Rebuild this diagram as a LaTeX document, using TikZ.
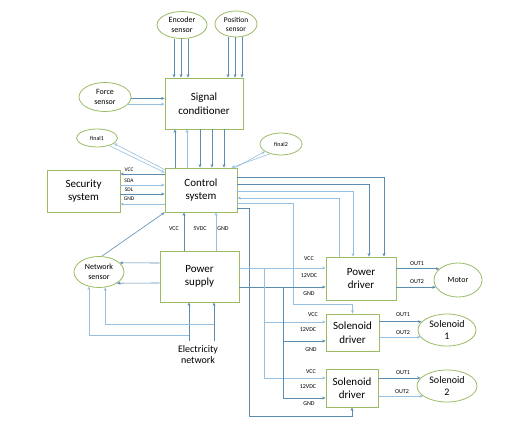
\documentclass[tikz,border=0pt]{standalone}
\usepackage{fontspec}
\setmainfont{Carlito}
\usetikzlibrary{shapes.geometric,arrows.meta}
\definecolor{bord}{RGB}{155,187,100}
\definecolor{dk}{RGB}{92,140,176}
\definecolor{lt}{RGB}{150,192,226}
\begin{document}
\begin{tikzpicture}[x=1pt,y=-1pt,
  box/.style={draw=bord,line width=0.8pt,rectangle,inner sep=0pt,align=center,font=\fontsize{11}{13.5}\selectfont},
  ell/.style={draw=bord,line width=0.8pt,ellipse,inner sep=0pt,align=center,font=\fontsize{8}{9.5}\selectfont},
  arr/.style={draw=dk,line width=0.6pt,-{Stealth[length=3.5pt,width=3pt]}},
  arrL/.style={arr,draw=lt},
  lbl/.style={font=\fontsize{6}{7}\selectfont,inner sep=0pt},
  slbl/.style={font=\fontsize{5.5}{6}\selectfont,inner sep=0pt}]
\fill[white] (0,0) rectangle (530,425);
\useasboundingbox (0,0) rectangle (530,425);

% nodes
\node[ell,minimum width=50pt,minimum height=27pt] (enc) at (182,25) {Encoder\\sensor};
\node[ell,minimum width=42pt,minimum height=26pt,font=\fontsize{7.5}{9}\selectfont] (pos) at (236,24) {Position\\sensor};
\node[box,minimum width=78pt,minimum height=51pt] (sig) at (204,103.5) {Signal\\conditioner};
\node[ell,minimum width=52pt,minimum height=29pt] (force) at (105,97) {Force\\sensor};
\node[box,minimum width=72pt,minimum height=44pt] (ctrl) at (201,190) {Control\\system};
\node[box,minimum width=73pt,minimum height=42pt] (sec) at (83.5,191) {Security\\system};
\node[ell,minimum width=41pt,minimum height=18pt,font=\fontsize{6}{7}\selectfont] (f1) at (97,138) {final1};
\node[ell,minimum width=42pt,minimum height=22pt,font=\fontsize{6}{7}\selectfont] (f2) at (281,144) {final2};
\node[box,minimum width=79pt,minimum height=51pt] (ps) at (199.5,276.5) {Power\\supply};
\node[ell,minimum width=50pt,minimum height=31pt] (net) at (99,272) {Network\\sensor};
\node[box,minimum width=70pt,minimum height=43pt] (pd) at (361,278.5) {Power\\driver};
\node[ell,minimum width=48pt,minimum height=34pt] (motor) at (458,280) {Motor};
\node[box,minimum width=53pt,minimum height=37pt] (sd1) at (352.5,332.5) {Solenoid\\driver};
\node[box,minimum width=52pt,minimum height=38pt] (sd2) at (352,388) {Solenoid\\driver};
\node[ell,minimum width=58pt,minimum height=32pt,font=\fontsize{10}{11.5}\selectfont] (sol1) at (447,330) {Solenoid\\1};
\node[ell,minimum width=60pt,minimum height=32pt,font=\fontsize{10}{11.5}\selectfont] (sol2) at (447,386) {Solenoid\\2};
\node[inner sep=0pt,align=center,font=\fontsize{10}{11}\selectfont] (elec) at (198,355) {Electricity\\network};

% sensors to signal conditioner
\foreach \dx in {-8,-1,6}{
  \draw[arr] ([xshift=\dx pt]enc.south) -- ([xshift=\dx pt]enc.south |- sig.north);
  \draw[arr] ([xshift=\dx pt]pos.south) -- ([xshift=\dx pt]pos.south |- sig.north);
}
\draw[arr] (force.-3) -- (force.-3 -| sig.west);
\draw[arrL] (force.-17) -- (force.-17 -| sig.west);

% signal conditioner <-> control
\draw[arr] ([xshift=-29pt]sig.south |- ctrl.north) -- ([xshift=-29pt]sig.south);
\draw[arrL] ([xshift=-17pt]sig.south |- ctrl.north) -- ([xshift=-17pt]sig.south);
\draw[arr] ([xshift=-4pt]sig.south) -- ([xshift=-4pt]sig.south |- ctrl.north);
\draw[arr] ([xshift=8pt]sig.south) -- ([xshift=8pt]sig.south |- ctrl.north);
\draw[arr] ([xshift=20pt]sig.south) -- ([xshift=20pt]sig.south |- ctrl.north);

% finals
\draw[arrL] ([yshift=-2pt]ctrl.north west) -- (f1.-18);
\draw[arrL] (f1.-32) -- ([yshift=-5pt]ctrl.north west);
\draw[arrL] ([xshift=-2pt]ctrl.north east) -- (f2.205);
\draw[arrL] (f2.222) -- ([xshift=-6pt]ctrl.north east);

% security
\draw[arr] ([yshift=16pt]ctrl.west) -- ([yshift=16pt]ctrl.west -| sec.east);
\draw[arrL] ([yshift=5pt]sec.east |- ctrl.west) -- ([yshift=5pt]ctrl.west);
\draw[arr] ([yshift=-4pt]sec.east |- ctrl.west) -- ([yshift=-4pt]ctrl.west);
\draw[arrL] ([yshift=-14pt]ctrl.west) -- ([yshift=-14pt]ctrl.west -| sec.east);
\node[slbl] (l1) at (129,170) {VCC};
\node[slbl] (l2) at (129,180.5) {SDA};
\node[slbl] (l3) at (129,190) {SDL};
\node[slbl] (l4) at (129,199) {GND};

% control right side
\draw[arr] ([yshift=13pt]ctrl.east) -| ([xshift=23pt]pd.north);
\draw[arr] ([yshift=6pt]ctrl.east) -| ([xshift=8pt]pd.north);
\draw[arrL] ([yshift=-1pt]ctrl.east) -| ([xshift=-8pt]pd.north);
\draw[arrL] ([xshift=-22pt]pd.north) |- ([yshift=-8pt]ctrl.east);
\draw[arrL] ([yshift=-13pt]ctrl.east) -| ([xshift=-59.5pt,yshift=9pt]sd1.north) -| (sd1.north);
\draw[arr] ([yshift=-18pt]ctrl.east) -| ([xshift=-103pt,yshift=-9pt]sd2.south) -| (sd2.south);

% power supply to control
\draw[arr] ([xshift=-15.5pt]ps.north) -- ([xshift=-15.5pt]ps.north |- ctrl.south);
\draw[arrL] ([xshift=16.5pt]ps.north) -- ([xshift=16.5pt]ps.north |- ctrl.south);
\node[lbl] (p1) at (174,229) {VCC};
\node[lbl] (p2) at (200,229) {5VDC};
\node[lbl] (p3) at (223,229) {GND};

% power supply to network sensor
\draw[arr] ([yshift=13.5pt]ps.west) -- (net.24);
\draw[arr] ([yshift=-6.5pt]ps.west) -- (net.-32);
\draw[arr] (net.80) -- (ctrl.south west);

% electricity network
\draw[arr] ([xshift=-9pt,yshift=5pt]elec.north) -- ([xshift=-9pt]elec.north |- ps.south);
\draw[arr] ([xshift=16pt,yshift=5pt]elec.north) -- ([xshift=16pt]elec.north |- ps.south);
\coordinate (b1) at (214,324);
\coordinate (b2) at (189,335);
\draw[arrL] (b1) -| (net.-68);
\draw[arrL] (b2) -| (net.-125);

% power supply to drivers
\draw[arrL] ([yshift=8.5pt]ps.east) -- ([yshift=8.5pt]ps.east -| pd.west);
\draw[arr] ([yshift=-10.5pt]ps.east) -- ([yshift=-10.5pt]ps.east -| pd.west);
\coordinate (v1) at (264,268);
\coordinate (v2) at (283,287);
\draw[arrL] (v1) |- ([yshift=10.5pt]sd1.west);
\draw[arrL] (v1) |- ([yshift=10pt]sd2.west);
\draw[arr] (v2) |- ([yshift=-8.5pt]sd1.west);
\draw[arr] (v2) |- ([yshift=-10pt]sd2.west);
\node[lbl] (q1) at (309,259) {VCC};
\node[lbl] (q2) at (309,276) {12VDC};
\node[lbl] (q3) at (309,294) {GND};
\node[lbl] (r1) at (313,315) {VCC};
\node[lbl] (r2) at (308,330) {12VDC};
\node[lbl] (r3) at (311,350) {GND};
\node[lbl] (s1) at (311,372) {VCC};
\node[lbl] (s2) at (308,387) {12VDC};
\node[lbl] (s3) at (309,404) {GND};

% outputs
\draw[arr] (pd.east |- motor.149) -- (motor.149);
\draw[arr] (pd.east |- motor.198) -- (motor.198);
\draw[arr] (sd1.east |- sol1.162) -- (sol1.162);
\draw[arrL] (sd1.east |- sol1.195) -- (sol1.195);
\draw[arr] (sd2.east |- sol2.163) -- (sol2.163);
\draw[arrL] (sd2.east |- sol2.203) -- (sol2.203);
\node[lbl] (o1) at (417,264) {OUT1};
\node[lbl] (o2) at (417,282) {OUT2};
\node[lbl] (o3) at (403,315) {OUT1};
\node[lbl] (o4) at (403,333) {OUT2};
\node[lbl] (o5) at (403,373) {OUT1};
\node[lbl] (o6) at (402,392) {OUT2};
\end{tikzpicture}
\end{document}
